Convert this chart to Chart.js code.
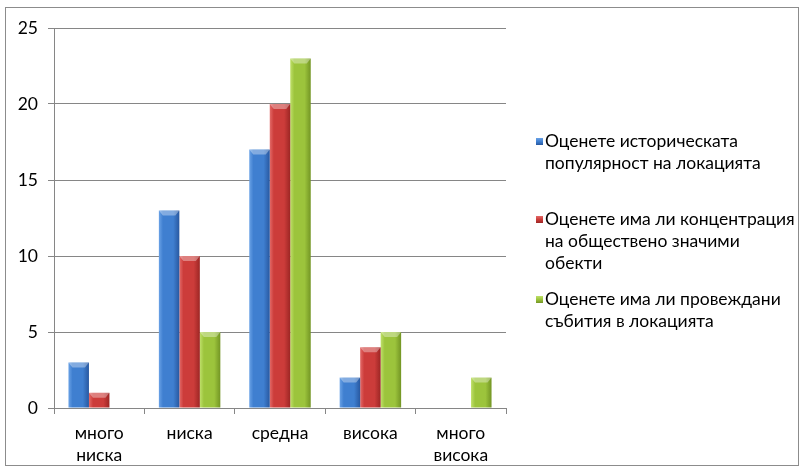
<!DOCTYPE html>
<html>
<head>
<meta charset="utf-8">
<script src="https://cdn.jsdelivr.net/npm/chart.js@4.4.0/dist/chart.umd.min.js"></script>
<style>
  html, body { margin: 0; padding: 0; background: #fff; }
  #frame { position: absolute; left: 5px; top: 7px; width: 794px; height: 459px; border: 1px solid #8c8c8c; box-sizing: border-box; }
  #box { position: absolute; left: 0; top: 0; width: 804px; height: 474px; }
  #legend { position: absolute; left: 536px; top: 130px; font-family: Lato, "Open Sans", sans-serif; font-size: 17.5px; color: #000; }
  .item { position: relative; padding-left: 9px; line-height: 22px; }
  .sw { position: absolute; left: 0; top: 8px; width: 7px; height: 7px; }
</style>
</head>
<body>
<div id="frame"></div>
<div id="box"><canvas id="chart" width="804" height="474"></canvas></div>
<div id="legend"></div>
<script>
// categories and answers per question
const categories = [['много', 'ниска'], 'ниска', 'средна', 'висока', ['много', 'висока']];
const seriesNames = [
  ['Оценете историческата', 'популярност на локацията'],
  ['Оценете има ли концентрация', 'на обществено значими', 'обекти'],
  ['Оценете има ли провеждани', 'събития в локацията']
];
const historical = [3, 13, 17, 2, 0];
const concentration = [1, 10, 20, 4, 0];
const events = [0, 5, 23, 5, 2];
const yMax = 25;
const yStep = 5;

// light / base / dark shades for the bar gradients
const shades = [
  ['#6aa2e6', '#3f7fd0', '#2858a0'],
  ['#e36a68', '#cc3c3a', '#9c2624'],
  ['#bfe06a', '#9cc43c', '#739524']
];
const catPct = 0.68;

function barFill(i) {
  return function (c) {
    const chart = c.chart;
    const xs = chart.scales.x;
    if (!xs || !xs.width) return shades[i][1];
    const cat = xs.width / categories.length;
    const group = cat * catPct;
    const bw = group / 3;
    const left = xs.getPixelForValue(c.dataIndex) - group / 2 + i * bw;
    const g = chart.ctx.createLinearGradient(left, 0, left + bw, 0);
    g.addColorStop(0, shades[i][0]);
    g.addColorStop(0.2, shades[i][1]);
    g.addColorStop(0.7, shades[i][1]);
    g.addColorStop(1, shades[i][2]);
    return g;
  };
}

// bevelled top of each bar
const bevel = {
  id: 'bevel',
  afterDatasetsDraw(chart) {
    const ctx = chart.ctx;
    chart.data.datasets.forEach((ds, i) => {
      chart.getDatasetMeta(i).data.forEach(bar => {
        if (Math.abs(bar.base - bar.y) < 2) return;
        const l = bar.x - bar.width / 2, r = bar.x + bar.width / 2, t = bar.y;
        ctx.save();
        ctx.fillStyle = 'rgba(255,255,255,0.35)';
        ctx.beginPath();
        ctx.moveTo(l, t);
        ctx.lineTo(r, t);
        ctx.lineTo(r - 4, t + 5);
        ctx.lineTo(l + 4, t + 5);
        ctx.closePath();
        ctx.fill();
        ctx.restore();
      });
    });
  }
};

const values = [historical, concentration, events];
const font = { family: 'Lato, "Open Sans", sans-serif', size: 17.5, lineHeight: 1.26 };

new Chart(document.getElementById('chart').getContext('2d'), {
  type: 'bar',
  data: {
    labels: categories,
    datasets: values.map((v, i) => ({
      label: seriesNames[i].join(' '),
      data: v,
      backgroundColor: barFill(i),
      borderWidth: 0,
      barPercentage: 1,
      categoryPercentage: catPct
    }))
  },
  options: {
    responsive: false,
    animation: false,
    layout: { padding: { top: 28, right: 298, left: 0, bottom: 0 } },
    plugins: { legend: { display: false }, tooltip: { enabled: false } },
    scales: {
      x: {
        grid: { display: true, drawOnChartArea: false, offset: true, color: '#868686', tickLength: 6 },
        border: { color: '#868686' },
        ticks: { color: '#000', font: font, padding: 8 },
        afterFit(s) { s.height = 66; }
      },
      y: {
        min: 0,
        max: yMax,
        ticks: { stepSize: yStep, color: '#000', font: font, padding: 10 },
        grid: { color: '#868686', tickLength: 6 },
        border: { color: '#868686' },
        afterFit(s) { s.width = 54; }
      }
    }
  },
  plugins: [bevel]
});

// legend with wrapped series names
const legend = document.getElementById('legend');
const gaps = [0, 34, 14];
seriesNames.forEach((lines, i) => {
  const it = document.createElement('div');
  it.className = 'item';
  it.style.marginTop = gaps[i] + 'px';
  const sw = document.createElement('div');
  sw.className = 'sw';
  sw.style.background = 'linear-gradient(' + shades[i][0] + ',' + shades[i][1] + ' 50%,' + shades[i][2] + ')';
  it.appendChild(sw);
  lines.forEach(t => {
    const d = document.createElement('div');
    d.textContent = t;
    it.appendChild(d);
  });
  legend.appendChild(it);
});
</script>
</body>
</html>
